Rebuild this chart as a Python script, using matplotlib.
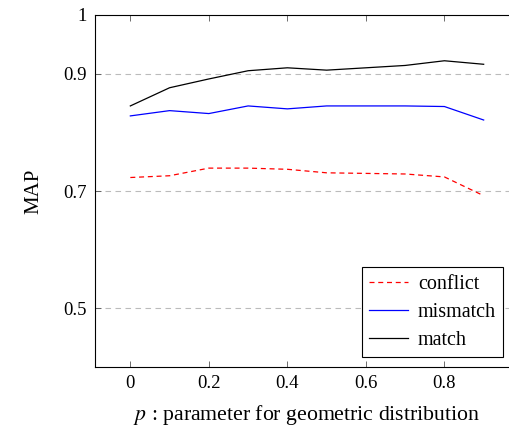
import matplotlib
matplotlib.use("Agg")
import matplotlib.pyplot as plt

p = [0.0, 0.1, 0.2, 0.3, 0.4, 0.5, 0.6, 0.7, 0.8, 0.9]
conflict = [0.723, 0.726, 0.739, 0.739, 0.737, 0.731, 0.730, 0.729, 0.724, 0.692]
mismatch = [0.828, 0.837, 0.832, 0.845, 0.840, 0.845, 0.845, 0.845, 0.844, 0.821]
match = [0.845, 0.876, 0.891, 0.905, 0.910, 0.906, 0.910, 0.914, 0.922, 0.916]
yticks = [0.5, 0.7, 0.9, 1.0]
ytick_labels = ["0.5", "0.7", "0.9", "1"]
xticks = [0, 0.2, 0.4, 0.6, 0.8]
xtick_labels = ["0", "0.2", "0.4", "0.6", "0.8"]

plt.rcParams['font.family'] = ['Liberation Serif', 'DejaVu Serif']
plt.rcParams['mathtext.fontset'] = 'stix'

fig = plt.figure(figsize=(5.09, 4.29), dpi=100)
ax = fig.add_axes([95/509, 1-367/429, 424/509, 352/429])

ax.plot(p, conflict, color='red', linestyle=(0, (4, 3)), linewidth=0.9, label='conflict')
ax.plot(p, mismatch, color='blue', linewidth=0.9, label='mismatch')
ax.plot(p, match, color='black', linewidth=0.9, label='match')

ax.set_xlim(-0.09, 0.99)
ax.set_ylim(0.4, 1.0)
ax.set_yticks(yticks)
ax.set_yticklabels(ytick_labels)
ax.set_xticks(xticks)
ax.set_xticklabels(xtick_labels)
ax.tick_params(direction='in', length=4, width=0.6, labelsize=13.5, color='#555555', pad=6,
               top=True)
ax.yaxis.grid(True, linestyle=(0, (5, 4)), color='#bbbbbb', linewidth=0.8)
ax.spines['right'].set_visible(False)
for s in ax.spines.values():
    s.set_linewidth(0.8)
ax.set_ylabel('MAP', fontsize=15, labelpad=14)
ax.set_xlabel(r'$p$ : parameter for geometric distribution', fontsize=15.7, labelpad=8)

leg = ax.legend(loc='lower right', bbox_to_anchor=((503-95)/424, 10/352), fontsize=14.5,
                fancybox=False, edgecolor='black', framealpha=1, handlelength=1.9,
                borderpad=0.35, labelspacing=0.45, handletextpad=0.5, borderaxespad=0)
leg.get_frame().set_linewidth(0.8)

fig.savefig('out.png', dpi=100)
